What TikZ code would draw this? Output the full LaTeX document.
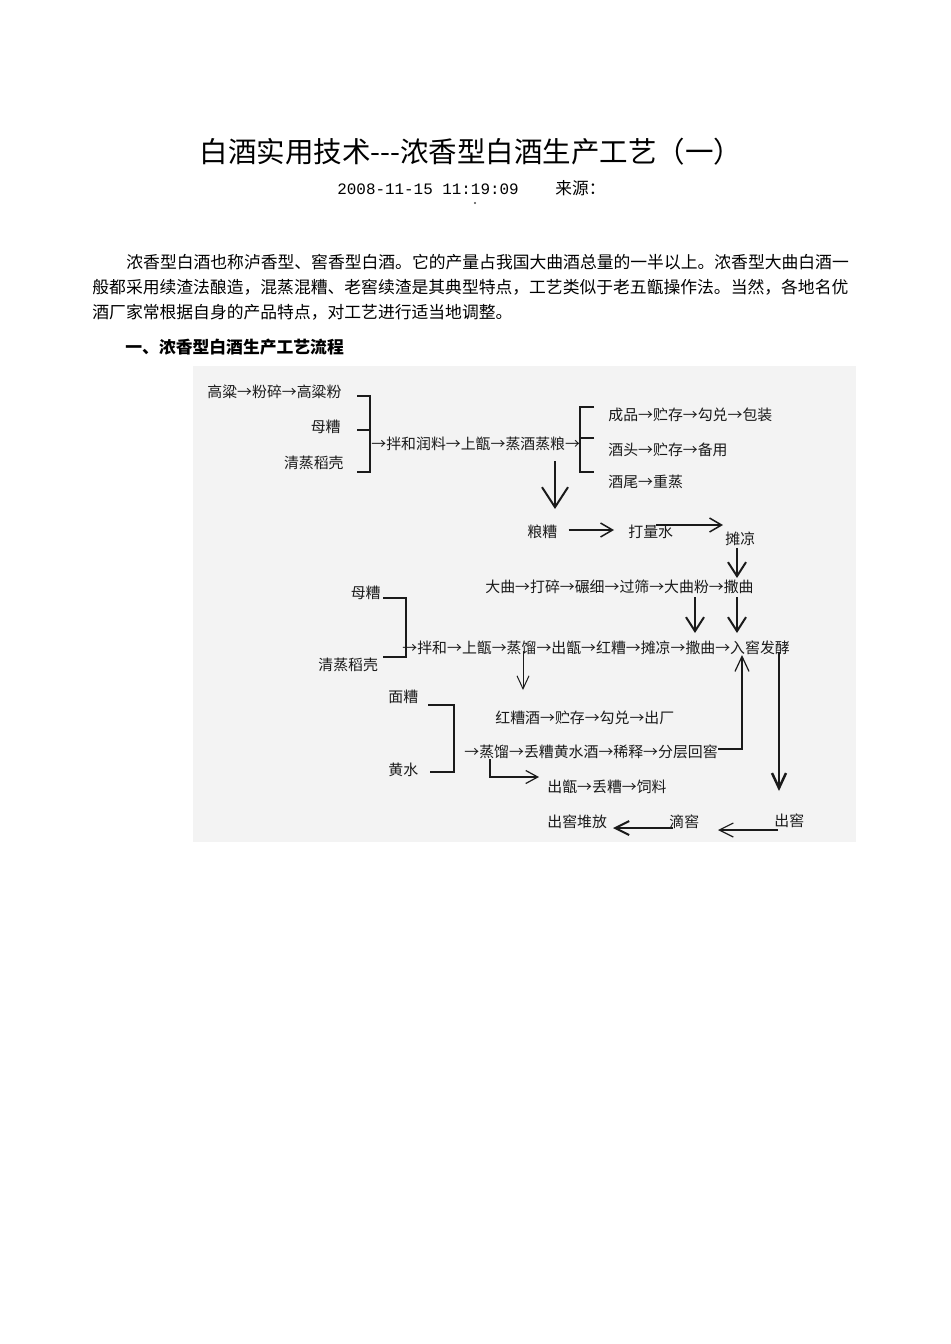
\documentclass[tikz,border=0pt]{standalone}
\usepackage{fontspec}
\usetikzlibrary{arrows.meta}
\newfontfamily\cjk{Noto Sans CJK SC}
\newfontfamily\monodig{Liberation Mono}
\newcommand\rarr{\makebox[1em][c]{→}}
\definecolor{bgc}{HTML}{F3F3F3}
\definecolor{ink}{HTML}{1A1A1A}
\tikzset{
  dtxt/.style={inner sep=0pt, text=ink, font=\cjk\fontsize{7.45}{8}\selectfont, text height=6.56pt, text depth=0.89pt},
  btxt/.style={inner sep=0pt, text=black, font=\cjk\fontsize{8.4}{9}\selectfont, text height=7.39pt, text depth=1.01pt},
  htxt/.style={btxt, font=\cjk\bfseries\fontsize{8.4}{9}\selectfont},
  ttxt/.style={inner sep=0pt, text=black, font=\cjk\fontsize{14.25}{15}\selectfont, text height=12.54pt, text depth=1.71pt},
  mtxt/.style={inner sep=0pt, text=black, font=\monodig\fontsize{7.95}{9}\selectfont, text height=7pt, text depth=0.95pt},
  brk/.style={draw=ink, line width=0.6pt},
  thinarr/.style={draw=ink, line width=0.6pt, -{Straight Barb[length=5pt,width=7pt]}},
  thickarr/.style={draw=ink, line width=1pt, -{Straight Barb[length=7pt,width=9pt]}},
  bigarr/.style={draw=ink, line width=1pt, -{Straight Barb[length=10pt,width=13pt]}}
}
\begin{document}
\begin{tikzpicture}[x=0.5pt,y=-0.5pt]
\useasboundingbox (0,0) rectangle (950,1344);
\fill[white] (0,0) rectangle (950,1344);

% title and header
\node[ttxt] (title) at (471,152) {白酒实用技术-{}-{}-浓香型白酒生产工艺（一）};
\node[mtxt, anchor=west] (date) at (337,188) {2008-11-15 11:19:09};
\node[btxt, anchor=west, font=\cjk\fontsize{8.35}{9}\selectfont] (src) at (555,188) {来源：};
\fill[black!70] (475,203) circle (1.1);

\node[btxt, anchor=west] (p1) at (126,262) {浓香型白酒也称泸香型、窖香型白酒。它的产量占我国大曲酒总量的一半以上。浓香型大曲白酒一};
\node[btxt, anchor=west] (p2) at (92,287) {般都采用续渣法酿造，混蒸混糟、老窖续渣是其典型特点，工艺类似于老五甑操作法。当然，各地名优};
\node[btxt, anchor=west] (p3) at (92,312) {酒厂家常根据自身的产品特点，对工艺进行适当地调整。};
\node[htxt, anchor=west] (h1) at (125,347) {一、浓香型白酒生产工艺流程};

% diagram background
\fill[bgc] (193,366) rectangle (856,842);

% ---- top block
\node[dtxt, anchor=west] (a1) at (207,392) {高粱\rarr 粉碎\rarr 高粱粉};
\node[dtxt, anchor=east] (a2) at (341,427) {母糟};
\node[dtxt, anchor=east] (a3) at (344,463) {清蒸稻壳};
\coordinate (k1t) at (357,396);
\coordinate (k1m) at (357,430);
\coordinate (k1b) at (357,472);
\draw[brk] (k1t) -- ++(13,0) |- (k1b);
\draw[brk] (k1m) -- ++(13,0);

\node[dtxt, anchor=west] (a4) at (371,444) {\rarr 拌和润料\rarr 上甑\rarr 蒸酒蒸粮\rarr};
\coordinate (k2t) at (594,407);
\coordinate (k2m) at (594,438);
\coordinate (k2b) at (594,472);
\draw[brk] (k2t) -- ++(-14,0) |- (k2b);
\draw[brk] (k2m) -- ++(-14,0);
\node[dtxt, anchor=west] (a5) at (608,415) {成品\rarr 贮存\rarr 勾兑\rarr 包装};
\node[dtxt, anchor=west] (a6) at (608,450) {酒头\rarr 贮存\rarr 备用};
\node[dtxt, anchor=west] (a7) at (608,482) {酒尾\rarr 重蒸};

% down to 粮糟
\node[dtxt, anchor=west] (b1) at (527,532) {粮糟};
\node[dtxt, anchor=west] (b2) at (628,532) {打量水};
\node[dtxt, anchor=west] (b3) at (725,539) {摊凉};
\coordinate (s1) at (555,461);
\coordinate (e1) at (555,509);
\draw[bigarr] (s1) -- (e1);
\draw[draw=ink, line width=0.75pt, -{Straight Barb[length=6pt,width=7pt]}] (b1.east) ++(11,-2) coordinate (s2) -- (614,530) coordinate (e2);
\coordinate (s3) at (656,525);
\coordinate (e3) at (723,525);
\draw[draw=ink, line width=0.75pt, -{Straight Barb[length=6pt,width=7pt]}] (s3) -- (e3);

% 大曲 row
\node[dtxt, anchor=west] (c1) at (485,587) {大曲\rarr 打碎\rarr 碾细\rarr 过筛\rarr 大曲粉\rarr 撒曲};
\draw[thickarr] (b3.south -| 737,0) ++(0,1) -- (737,578);
\coordinate (s4) at (695,597);
\coordinate (s5) at (737,597);
\draw[thickarr] (s4) -- (695,633);
\draw[thickarr] (s5) -- (737,633);

% second block
\node[dtxt, anchor=east] (d1) at (381,593) {母糟};
\node[dtxt, anchor=west] (d2) at (318,665) {清蒸稻壳};
\coordinate (k3t) at (383,598);
\coordinate (k3b) at (383,657);
\draw[brk] (k3t) -- ++(23,0) |- (k3b);
\node[dtxt, anchor=west] (d3) at (402,648) {\rarr 拌和\rarr 上甑\rarr 蒸馏\rarr 出甑\rarr 红糟\rarr 摊凉\rarr 撒曲\rarr 入窖发酵};
\coordinate (s6) at (523,651);
\draw[draw=ink, line width=0.5pt, -{Straight Barb[length=6.5pt,width=6pt]}] (s6) -- (523,690);

% third block
\node[dtxt, anchor=west] (g1) at (388,697) {面糟};
\node[dtxt, anchor=west] (g2) at (388,770) {黄水};
\coordinate (k4t) at (428,705);
\coordinate (k4b) at (430,772);
\draw[brk] (k4t) -- ++(26,0) |- (k4b);
\node[dtxt, anchor=west] (g3) at (495,718) {红糟酒\rarr 贮存\rarr 勾兑\rarr 出厂};
\node[dtxt, anchor=west] (g4) at (464,752) {\rarr 蒸馏\rarr 丢糟黄水酒\rarr 稀释\rarr 分层回窖};
\node[dtxt, anchor=west] (g5) at (547,787) {出甑\rarr 丢糟\rarr 饲料};
\coordinate (s7) at (490,759);
\draw[draw=ink, line width=0.6pt, -{Straight Barb[length=6pt,width=6.5pt]}] (s7) |- (539,777);
\draw[thinarr, -{Straight Barb[length=7.5pt,width=7pt]}] (g4.east) ++(0,-3) -- (742,749) -- (742,655);
\coordinate (s8) at (779,652);
\draw[draw=ink, line width=1.25pt, -{Straight Barb[length=7.5pt,width=7pt]}] (s8) -- (779,791);

% bottom row
\node[dtxt, anchor=west] (f1) at (774,821) {出窖};
\node[dtxt, anchor=west] (f2) at (669,822) {滴窖};
\node[dtxt, anchor=west] (f3) at (547,822) {出窖堆放};
\draw[draw=ink, line width=0.6pt, -{Straight Barb[length=7pt,width=7pt]}] (778,830) -- (718,830);
\draw[draw=ink, line width=1pt, -{Straight Barb[length=7pt,width=7pt]}] (673,828) -- (613,828);
\end{tikzpicture}
\end{document}
